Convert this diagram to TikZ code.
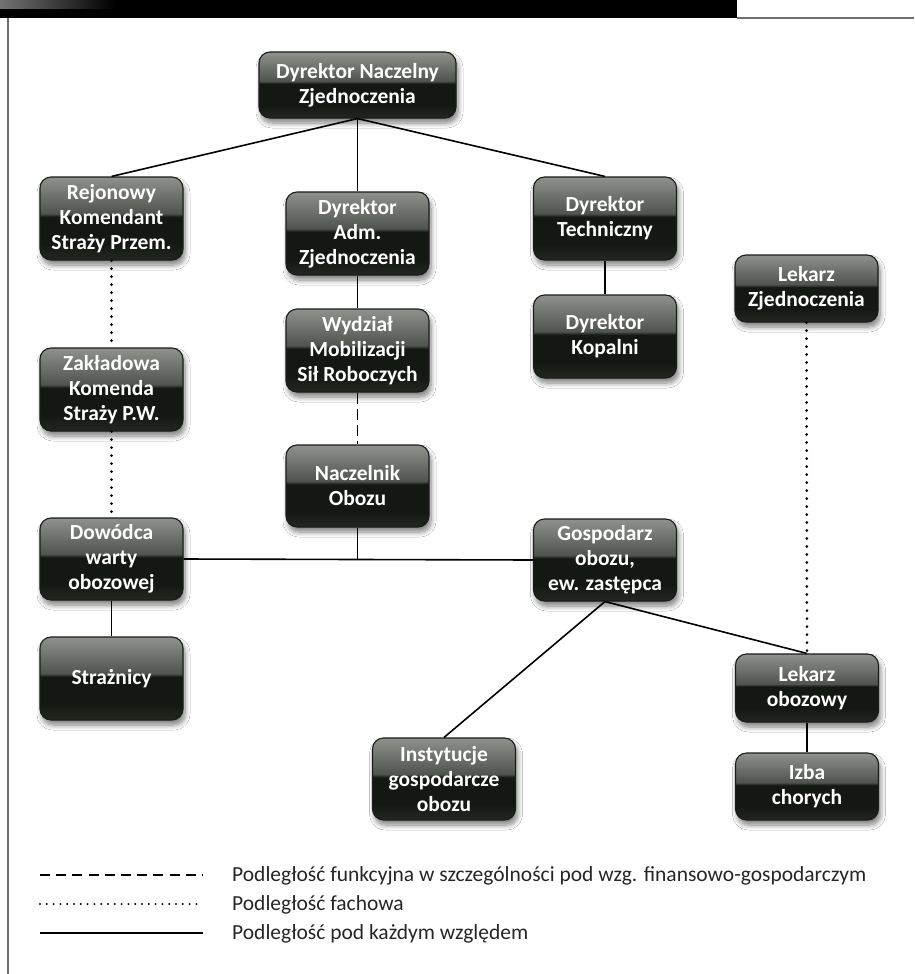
\documentclass[tikz,border=0pt]{standalone}
\usepackage{fontspec}
\setmainfont{Carlito}
\usetikzlibrary{shadows.blur}
\definecolor{gtop}{HTML}{8E918C}
\definecolor{gmid}{HTML}{50544E}
\definecolor{gbot}{HTML}{141813}
\definecolor{gbotb}{HTML}{222720}
\definecolor{rim}{HTML}{1A1C19}
\definecolor{framegray}{HTML}{707070}
\pgfdeclareverticalshading{glossy}{100bp}{color(0bp)=(gbotb); color(25bp)=(gbotb); color(35bp)=(gbot); color(51bp)=(gbot); color(53bp)=(gmid); color(75bp)=(gtop); color(100bp)=(gtop)}
\tikzset{
  box/.style={rounded corners=11pt, draw=rim, line width=1.1pt, shading=glossy,
    text=white, font=\bfseries\fontsize{21.5}{25}\selectfont, align=center,
    minimum width=143pt, minimum height=83pt, inner sep=1pt,
    blur shadow={shadow xshift=2pt, shadow yshift=-5pt, shadow blur steps=8, shadow opacity=50, shadow blur radius=5pt}},
  conn/.style={line width=1.6pt, black},
  dotconn/.style={line width=3pt, black, line cap=round, dash pattern=on 0pt off 8pt},
  dashconn/.style={line width=1.6pt, black, dash pattern=on 11pt off 5pt},
  legtext/.style={anchor=west, inner sep=0pt, text=black!85, font=\fontsize{21.5}{24}\selectfont}
}
\begin{document}
\begin{tikzpicture}[x=1pt,y=-1pt]
\useasboundingbox (0,0) rectangle (914,974);
\fill[white] (0,0) rectangle (914,974);
% frame
\fill[black] (0,0) rectangle (737,18);
\shade[left color=black!55, right color=black] (0,0) rectangle (115,9);
\draw[framegray, line width=1.5pt] (737,18) -- (914,18);
\draw[framegray, line width=1.5pt] (8,18) -- (8,974);
% nodes
\node[box, minimum width=197pt, minimum height=66pt] (nacz) at (357.5,85) {Dyrektor Naczelny\\Zjednoczenia};
\node[box] (rej) at (111.5,218.5) {Rejonowy\\Komendant\\Straży Przem.};
\node[box] (adm) at (357.5,233.5) {Dyrektor\\Adm.\\Zjednoczenia};
\node[box] (tech) at (605,218.5) {Dyrektor\\Techniczny};
\node[box, minimum height=67pt] (lekz) at (806.5,288.5) {Lekarz\\Zjednoczenia};
\node[box] (wyd) at (357.5,350.5) {Wydział\\Mobilizacji\\Sił Roboczych};
\node[box] (kop) at (605,336.5) {Dyrektor\\Kopalni};
\node[box] (zak) at (111.5,389.5) {Zakładowa\\Komenda\\Straży P.W.};
\node[box, minimum height=82pt] (nob) at (357.5,486) {Naczelnik\\Obozu};
\node[box, minimum height=82pt] (dow) at (111.5,559) {Dowódca\\warty\\obozowej};
\node[box, minimum height=82pt] (gosp) at (605,560) {Gospodarz\\obozu,\\ew. zastępca};
\node[box] (str) at (111.5,678.5) {Strażnicy};
\node[box, minimum height=82pt] (inst) at (444,779) {Instytucje\\gospodarcze\\obozu};
\node[box, minimum height=68pt] (leko) at (807,688) {Lekarz\\obozowy};
\node[box, minimum height=67pt] (izba) at (807,786.5) {Izba\\chorych};
% connectors
\draw[conn] (nacz.south) -- (rej.north);
\draw[conn] (nacz.south) -- (adm.north);
\draw[conn] (nacz.south) -- (tech.north);
\draw[conn] (adm.south) -- (wyd.north);
\draw[conn] (tech.south) -- (kop.north);
\draw[dashconn] (wyd.south) -- (nob.north);
\draw[dotconn] (rej.south) -- (zak.north);
\draw[dotconn] (zak.south) -- (dow.north);
\coordinate (junc) at (nob.south |- dow.east);
\draw[conn] (nob.south) -- (junc);
\draw[conn] (dow.east) -- (gosp.west);
\draw[conn] (dow.south) -- (str.north);
\draw[conn] (gosp.south) -- (inst.north);
\draw[conn] (gosp.south) -- (leko.north);
\draw[dotconn] (lekz.south) -- (leko.north);
\draw[conn] (leko.south) -- (izba.north);
% legend
\coordinate (la1) at (40,875); \coordinate (lb1) at (203,875);
\coordinate (la2) at (40,904); \coordinate (lb2) at (203,904);
\coordinate (la3) at (40,933); \coordinate (lb3) at (203,933);
\draw[line width=2pt, dash pattern=on 10pt off 6.2pt] (la1) -- (lb1);
\draw[line width=2.2pt, line cap=round, dash pattern=on 0pt off 6.8pt] (la2) -- (lb2);
\draw[line width=2pt] (la3) -- (lb3);
\node[legtext] (t1) at (232,876) {Podległość funkcyjna w szczególności pod wzg. finansowo-gospodarczym};
\node[legtext] (t2) at (232,905) {Podległość fachowa};
\node[legtext] (t3) at (232,934) {Podległość pod każdym względem};
\end{tikzpicture}
\end{document}
